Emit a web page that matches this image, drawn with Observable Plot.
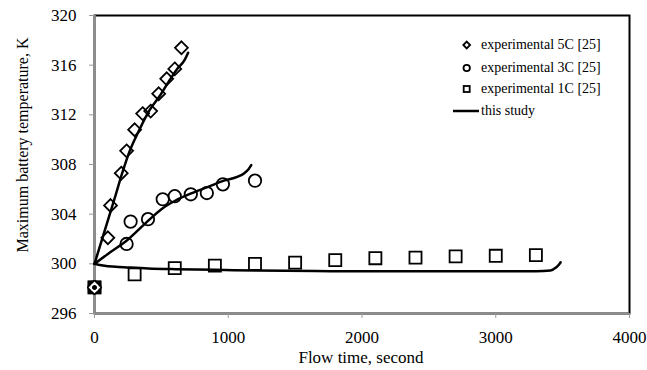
<!DOCTYPE html>
<html><head><meta charset="utf-8">
<script src="https://cdn.jsdelivr.net/npm/d3@7"></script>
<script src="https://cdn.jsdelivr.net/npm/@observablehq/plot@0.6"></script>
<style>
body{margin:0;background:#fff;}
#wrap{position:relative;width:647px;height:370px;font-family:"Liberation Serif","Times New Roman",serif;color:#000;}
.lab{position:absolute;white-space:nowrap;font-size:17px;}
.row{position:absolute;display:flex;align-items:center;white-space:nowrap;font-size:14px;height:16px;}
</style></head><body><div id="wrap"></div>
<script>
// experimental 5C [25]
const exp5Time = [0, 100, 120, 200, 240, 300, 360, 420, 480, 540, 600, 650];
const exp5Temp = [298.1, 302.1, 304.7, 307.3, 309.1, 310.8, 312.1, 312.3, 313.7, 314.9, 315.7, 317.4];
// experimental 3C [25]
const exp3Time = [0, 240, 270, 400, 510, 600, 720, 840, 960, 1200];
const exp3Temp = [298.1, 301.6, 303.4, 303.6, 305.2, 305.45, 305.6, 305.7, 306.4, 306.7];
// experimental 1C [25]
const exp1Time = [0, 300, 600, 900, 1200, 1500, 1800, 2100, 2400, 2700, 3000, 3300];
const exp1Temp = [298.1, 299.15, 299.65, 299.85, 300.0, 300.1, 300.3, 300.45, 300.5, 300.6, 300.65, 300.7];
// this study (model)
const sim5Time = [0, 50, 100, 150, 207, 260, 331, 413, 486, 556, 618, 673, 700];
const sim5Temp = [300, 301.75, 303.5, 305.25, 307.3, 309.0, 310.7, 312.4, 313.5, 314.7, 315.7, 316.4, 317.0];
const sim3Time = [0, 100, 244, 404, 500, 606, 718, 850, 967, 1067, 1120, 1150, 1172];
const sim3Temp = [300, 300.8, 301.9, 303.5, 304.4, 305.1, 305.65, 306.2, 306.7, 307.0, 307.3, 307.6, 307.95];
const sim1Time = [0, 50, 100, 219, 400, 606, 905, 1204, 1764, 2500, 3000, 3300, 3409, 3450, 3470, 3485];
const sim1Temp = [300, 299.88, 299.8, 299.73, 299.63, 299.57, 299.52, 299.46, 299.41, 299.4, 299.4, 299.41, 299.46, 299.7, 299.9, 300.13];

const xTicks = [0, 1000, 2000, 3000, 4000];
const yTicks = [296, 300, 304, 308, 312, 316, 320];
const xTitle = "Flow time, second";
const yTitle = "Maximum battery temperature, K";
const legendLabels = ["experimental 5C [25]", "experimental 3C [25]", "experimental 1C [25]", "this study"];

const zip = (t, v) => t.map((d, i) => ({t: d, v: v[i]}));
const e5 = zip(exp5Time, exp5Temp), e3 = zip(exp3Time, exp3Temp), e1 = zip(exp1Time, exp1Temp);
const s5 = zip(sim5Time, sim5Temp), s3 = zip(sim3Time, sim3Temp), s1 = zip(sim1Time, sim1Temp);
const atStart = d => d.t === 0;

const lineOpts = {x: "t", y: "v", stroke: "black", strokeWidth: 2.5, curve: "monotone-x"};
const dotOpts = {x: "t", y: "v", stroke: "black", fill: "none", strokeWidth: 1.8};

const chart = Plot.plot({
  width: 647, height: 370,
  marginLeft: 94, marginRight: 18, marginTop: 15, marginBottom: 57,
  style: {fontFamily: "'Liberation Serif','Times New Roman',serif", fontSize: "17px", color: "black", background: "white", overflow: "visible"},
  x: {domain: [0, 4000]},
  y: {domain: [296, 320]},
  marks: [
    Plot.frame({stroke: "black", strokeWidth: 2}),
    Plot.ruleX([0], {stroke: "#8f8f8f", strokeWidth: 2.5}),
    Plot.ruleY([296], {stroke: "#8f8f8f", strokeWidth: 2}),
    Plot.axisX({ticks: xTicks, tickFormat: d => String(d), tickSize: 5, tickPadding: 12, stroke: "#999", fill: "black", label: null}),
    Plot.axisY({ticks: yTicks, tickFormat: d => String(d), tickSize: 5, tickPadding: 13, stroke: "#999", fill: "black", label: null}),
    Plot.line(s5, lineOpts),
    Plot.line(s3, lineOpts),
    Plot.line(s1, lineOpts),
    Plot.dot(e1, {...dotOpts, symbol: "square", r: 6.8}),
    Plot.dot(e3, {...dotOpts, symbol: "circle", r: 6.2}),
    Plot.dot(e5, {...dotOpts, symbol: "diamond2", r: 5.8}),
    // overlapping starting markers render as a dark box in the reference
    Plot.dot(e1.filter(atStart), {x: "t", y: "v", symbol: "square", r: 7.6, fill: "black", stroke: "none"}),
    Plot.dot(e3.filter(atStart), {x: "t", y: "v", symbol: "circle", r: 3.2, fill: "none", stroke: "white", strokeWidth: 1.4}),
    Plot.dot(e5.filter(atStart), {x: "t", y: "v", symbol: "diamond2", r: 4.4, fill: "none", stroke: "white", strokeWidth: 1.4})
  ]
});

const wrap = document.getElementById("wrap");
wrap.appendChild(chart);

const xl = document.createElement("div");
xl.className = "lab"; xl.textContent = xTitle;
xl.style.left = "361px"; xl.style.top = "348px"; xl.style.transform = "translateX(-50%)";
wrap.appendChild(xl);

const yl = document.createElement("div");
yl.className = "lab"; yl.textContent = yTitle;
yl.style.fontSize = "16px";
yl.style.left = "23px"; yl.style.top = "145px";
yl.style.transform = "translate(-50%,-50%) rotate(-90deg)";
wrap.appendChild(yl);

// legend
const symbols = ["diamond", "circle", "square", "line"];
const rowsY = [45, 67.5, 89, 110.5];
legendLabels.forEach((lab, i) => {
  const row = document.createElement("div");
  row.className = "row";
  row.style.left = "452px"; row.style.top = (rowsY[i] - 8) + "px";
  const ns = "http://www.w3.org/2000/svg";
  const s = document.createElementNS(ns, "svg");
  s.setAttribute("width", 29); s.setAttribute("height", 16);
  let el;
  const sym = symbols[i];
  if (sym === "diamond") {
    el = document.createElementNS(ns, "path");
    el.setAttribute("d", "M14.7,4.6L18.1,8L14.7,11.4L11.3,8Z");
  } else if (sym === "circle") {
    el = document.createElementNS(ns, "circle");
    el.setAttribute("cx", 14.7); el.setAttribute("cy", 8); el.setAttribute("r", 3.2);
  } else if (sym === "square") {
    el = document.createElementNS(ns, "rect");
    el.setAttribute("x", 11.7); el.setAttribute("y", 5); el.setAttribute("width", 6); el.setAttribute("height", 6);
  } else {
    el = document.createElementNS(ns, "line");
    el.setAttribute("x1", 1); el.setAttribute("x2", 27); el.setAttribute("y1", 8); el.setAttribute("y2", 8);
  }
  el.setAttribute("fill", "none"); el.setAttribute("stroke", "black");
  el.setAttribute("stroke-width", sym === "line" ? 2.5 : 1.8);
  s.appendChild(el);
  row.appendChild(s);
  const sp = document.createElement("span");
  sp.textContent = lab;
  row.appendChild(sp);
  wrap.appendChild(row);
});
</script>
</body></html>
